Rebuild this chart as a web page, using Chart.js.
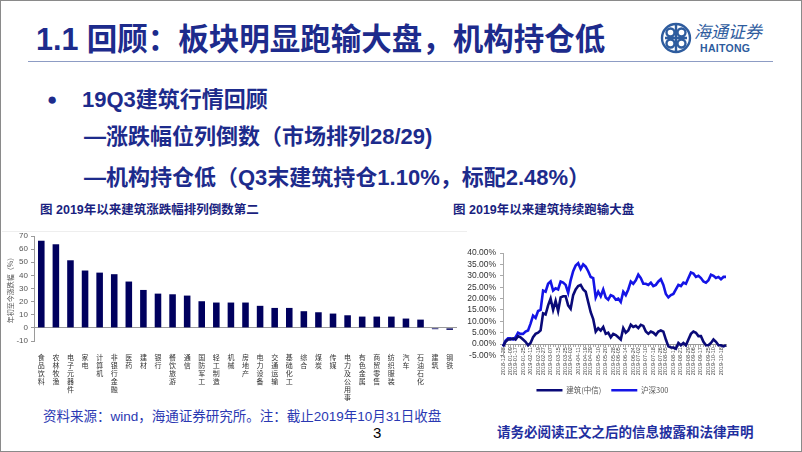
<!DOCTYPE html>
<html lang="zh">
<head>
<meta charset="UTF-8">
<title>1.1 回顾：板块明显跑输大盘，机构持仓低</title>
<script src="https://cdn.jsdelivr.net/npm/chart.js@4.4.0/dist/chart.umd.min.js"></script>
<style>
  html, body { margin: 0; padding: 0; background: #fff; }
  .slide { position: relative; width: 802px; height: 452px; overflow: hidden; background: #fff;
           font-family: "Liberation Sans", "Noto Sans CJK SC", sans-serif; }
  .frame { position: absolute; left: 0; top: 0; width: 802px; height: 452px; box-sizing: border-box;
           border: 1px solid #8a8a8a; pointer-events: none; }
  .abs { position: absolute; white-space: nowrap; }
  .title { left: 36px; top: 19px; font-size: 30.5px; line-height: 40px; font-weight: bold; color: #1d2b8c; }
  .rule { left: 28px; top: 61px; width: 745px; height: 0; border-top: 1.5px solid #8d9cc4; }
  .bullet { left: 47px; top: 88px; font-size: 17px; line-height: 24px; color: #1d2b8c; }
  .point { font-size: 22px; line-height: 30px; font-weight: bold; color: #1d2b8c; }
  .caption { top: 202px; font-size: 12.5px; line-height: 16px; font-weight: bold; color: #1a1f80; }
  .note { left: 43px; top: 408px; font-size: 13.5px; line-height: 18px; color: #2a38b2; }
  .page { left: 373px; top: 424px; font-size: 15px; line-height: 18px; color: #000; }
  .legal { left: 497px; top: 424px; font-size: 13.5px; line-height: 18px; font-weight: bold; color: #1f2fa0; }
  .logo-cn { left: 694px; top: 22px; font-size: 17px; line-height: 22px; color: #2e5c9e; font-style: italic; }
  .logo-en { left: 700px; top: 42px; font-size: 10.5px; line-height: 12px; font-weight: bold; color: #2e5c9e; letter-spacing: 0.3px; }
  canvas { position: absolute; }
  #rankChart { left: 0; top: 226px; }
  #trendChart { left: 445px; top: 226px; }
  .faint { left: 2px; top: 231px; width: 465px; height: 0; border-top: 1px solid #eeeeee; }
</style>
</head>
<body>
<div class="slide">
  <div class="abs title">1.1 回顾：板块明显跑输大盘，机构持仓低</div>
  <svg class="abs" style="left:660px;top:22px" width="32" height="32" viewBox="0 0 32 32">
    <g fill="none" stroke="#2e5c9e" stroke-width="2.4">
      <circle cx="16" cy="16" r="14"/>
      <path d="M16 3 V29 M5 16 H27"/>
      <circle cx="10.5" cy="10.5" r="4"/>
      <circle cx="21.5" cy="10.5" r="4"/>
      <circle cx="10.5" cy="21.5" r="4"/>
      <circle cx="21.5" cy="21.5" r="4"/>
    </g>
  </svg>
  <div class="abs logo-cn">海通证券</div>
  <div class="abs logo-en">HAITONG</div>
  <div class="abs rule"></div>

  <div class="abs bullet">●</div>
  <div class="abs point" style="left:82px;top:85px">19Q3建筑行情回顾</div>
  <div class="abs point" style="left:84px;top:122px">—涨跌幅位列倒数（市场排列28/29)</div>
  <div class="abs point" style="left:84px;top:163px">—机构持仓低（Q3末建筑持仓1.10%，标配2.48%）</div>

  <div class="abs caption" style="left:40px">图 2019年以来建筑涨跌幅排列倒数第二</div>
  <div class="abs caption" style="left:453px">图 2019年以来建筑持续跑输大盘</div>
  <div class="abs faint"></div>

  <canvas id="rankChart" width="468" height="176"></canvas>
  <canvas id="trendChart" width="355" height="178"></canvas>

  <div class="abs note">资料来源：wind，海通证券研究所。注：截止2019年10月31日收盘</div>
  <div class="abs page">3</div>
  <div class="abs legal">请务必阅读正文之后的信息披露和法律声明</div>
  <div class="frame"></div>
</div>

<script>
  // 左图：2019年以来各行业涨跌幅（%）
  const industries = [
    "食品饮料", "农林牧渔", "电子元器件", "家电", "计算机", "非银行金融", "医药", "建材",
    "银行", "餐饮旅游", "通信", "国防军工", "轻工制造", "机械", "房地产", "电力设备",
    "交通运输", "基础化工", "综合", "煤炭", "传媒", "电力及公用事业", "有色金属",
    "商贸零售", "纺织服装", "汽车", "石油石化", "建筑", "钢铁"
  ];
  const ytdChange = [
    66.4, 63.7, 51.5, 43.7, 42.1, 40.9, 35.3, 28.9, 26.1, 25.6, 24.6, 20.3, 19.3, 19.3, 19.3,
    16.8, 15.2, 15.2, 12.7, 11.9, 10.9, 9.6, 8.6, 8.6, 8.6, 7.1, 6.3, -1.0, -1.5
  ];
  const rankTicks = [-10, 0, 10, 20, 30, 40, 50, 60, 70];

  // 右图：累计涨跌幅（%），建筑(中信) vs 沪深300
  const constructionIdx = [
    -1, 1, 2, 2, 2.5, 2, 3.5, 3, 2, 1, -0.5, 0.5, 3, 4.5, 5, 6, 13.5, 13, 17, 20,
    15, 19, 14.5, 20.5, 21, 21, 17, 15.5, 21.5, 24, 25.5, 26, 24, 23, 18.5, 14, 11, 5.5, 7, 6,
    7.5, 4.5, 5, 3, 4.5, 4, 3, 2, 7, 5, 6, 8.5, 7.5, 8, 7, 8.5, 8, 5.5, 4.5, 5.5,
    5, 4, 5.5, 6, 5.5, 2, -1, -1.5, -1.5, -2, 0.5, -0.5, 0.5, -0.5, 2, 4.5, 5.5, 5, 3.5, 3.5,
    1, -0.5, -0.5, 0.5, 2, 1, -0.5, -0.5, -1, -0.5
  ];
  const csi300 = [
    -1, 1.5, 2.5, 2.5, 2, 3, 5, 4.5, 4.5, 5.5, 6, 9, 12.5, 11.5, 14.5, 15, 23.5, 23, 26.5, 27.5,
    23.5, 24.5, 24, 27.5, 27, 26, 22.5, 28, 32, 34.5, 35.5, 33, 35, 34, 32, 29.5, 29, 20.5, 23, 21,
    24, 20.5, 19.5, 21.5, 21, 19.5, 20, 18.5, 23, 21.5, 24, 27.5, 26.5, 28, 30.5, 29, 26.5, 26.5, 26, 27,
    25.5, 26, 27.5, 28.5, 26, 22, 20.5, 21.5, 22, 24, 26, 25.5, 27, 26.5, 29, 31.5, 31, 29.5, 30, 29,
    27.5, 27, 28, 30.5, 30, 29, 29.5, 28.5, 29.5, 29.5
  ];
  const trendTicks = [-5, 0, 5, 10, 15, 20, 25, 30, 35, 40];
  const tickDates = [
    "2018-12-28", "2019-01-09", "2019-01-17", "2019-01-25", "2019-02-11", "2019-02-19", "2019-02-27",
    "2019-03-07", "2019-03-15", "2019-03-25", "2019-04-02", "2019-04-11", "2019-04-19", "2019-04-29",
    "2019-05-10", "2019-05-20", "2019-05-28", "2019-06-05", "2019-06-14", "2019-06-24", "2019-07-02",
    "2019-07-10", "2019-07-18", "2019-07-26", "2019-08-05", "2019-08-13", "2019-08-21", "2019-08-29",
    "2019-09-06", "2019-09-17", "2019-09-25", "2019-10-10", "2019-10-18"
  ];
  const tradingDaysPerTick = 6;
  const tradingDaysTotal = 196;

  // one label every 6 trading days, blank in between
  const dateLabels = constructionIdx.map(() => "");
  tickDates.forEach((d, k) => {
    dateLabels[Math.round(k * tradingDaysPerTick * (dateLabels.length - 1) / tradingDaysTotal)] = d;
  });

  new Chart(document.getElementById("rankChart"), {
    type: "bar",
    data: {
      labels: industries.map(n => n.split("")),
      datasets: [{
        data: ytdChange,
        backgroundColor: "#00005e",
        barPercentage: 0.45,
        categoryPercentage: 1
      }]
    },
    options: {
      responsive: false,
      animation: false,
      layout: { padding: { top: 10, right: 11, left: 0, bottom: 0 } },
      plugins: { legend: { display: false }, tooltip: { enabled: false } },
      scales: {
        x: {
          grid: { display: false },
          border: { display: false },
          ticks: {
            autoSkip: false, maxRotation: 0, minRotation: 0, padding: 4, color: "#333",
            font: { family: "Noto Sans CJK SC", size: 7, lineHeight: 1.15 }
          },
          afterFit: s => { s.height = 61; }
        },
        y: {
          min: -10, max: 70,
          afterBuildTicks: s => { s.ticks = rankTicks.map(v => ({ value: v })); },
          ticks: { autoSkip: false, color: "#555", padding: 3, font: { family: "Liberation Sans", size: 8 } },
          grid: {
            color: c => (c.tick && c.tick.value === 0 ? "#9a9a9a" : "transparent"),
            tickColor: "#9a9a9a", tickLength: 3
          },
          border: { color: "#9a9a9a" },
          title: {
            display: true, text: "年初至今涨跌幅（%）", color: "#555", padding: 6,
            font: { family: "Noto Sans CJK SC", size: 7 }
          },
          afterFit: s => { s.width = 34; }
        }
      }
    }
  });

  new Chart(document.getElementById("trendChart"), {
    type: "line",
    data: {
      labels: dateLabels,
      datasets: [
        { label: "建筑(中信)", data: constructionIdx, xAxisID: "x", yAxisID: "y", borderColor: "#0a0a78",
          backgroundColor: "#0a0a78", borderWidth: 2.6, pointRadius: 0 },
        { label: "沪深300", data: csi300, xAxisID: "x", yAxisID: "y", borderColor: "#1414e6",
          backgroundColor: "#1414e6", borderWidth: 2.6, pointRadius: 0 }
      ]
    },
    options: {
      responsive: false,
      animation: false,
      layout: { padding: { top: 27, right: 40, left: 0, bottom: 0 } },
      plugins: {
        tooltip: { enabled: false },
        legend: {
          position: "bottom",
          labels: {
            usePointStyle: true, pointStyle: "line", pointStyleWidth: 26, padding: 10,
            color: "#555", font: { family: "Noto Sans CJK SC", size: 7.5 }
          }
        }
      },
      scales: {
        x: {
          position: { y: 0 },
          grid: { display: true, drawOnChartArea: false, tickColor: "#aaa", tickLength: 2 },
          border: { color: "#999" },
          ticks: {
            autoSkip: false, maxRotation: 90, minRotation: 90, padding: 1, color: "#444",
            font: { family: "Liberation Sans", size: 5.5 }
          }
        },
        // empty axis: keeps room between the plot and the legend
        gap: {
          type: "category", position: "bottom",
          grid: { display: false }, border: { display: false }, ticks: { display: false },
          afterFit: s => { s.height = 21; }
        },
        y: {
          min: -5, max: 40,
          afterBuildTicks: s => { s.ticks = trendTicks.map(v => ({ value: v })); },
          ticks: {
            autoSkip: false, padding: 4, color: "#333",
            font: { family: "Liberation Sans", size: 8.5 },
            callback: v => v.toFixed(2) + "%"
          },
          grid: { display: true, drawOnChartArea: false, tickColor: "#aaa", tickLength: 3 },
          border: { color: "#aaa" },
          afterFit: s => { s.width = 58; }
        },
        pad: {
          type: "linear", position: "right", axis: "y",
          grid: { display: false }, border: { display: false }, ticks: { display: false },
          afterFit: s => { s.width = 34; }
        }
      }
    }
  });
</script>
</body>
</html>
